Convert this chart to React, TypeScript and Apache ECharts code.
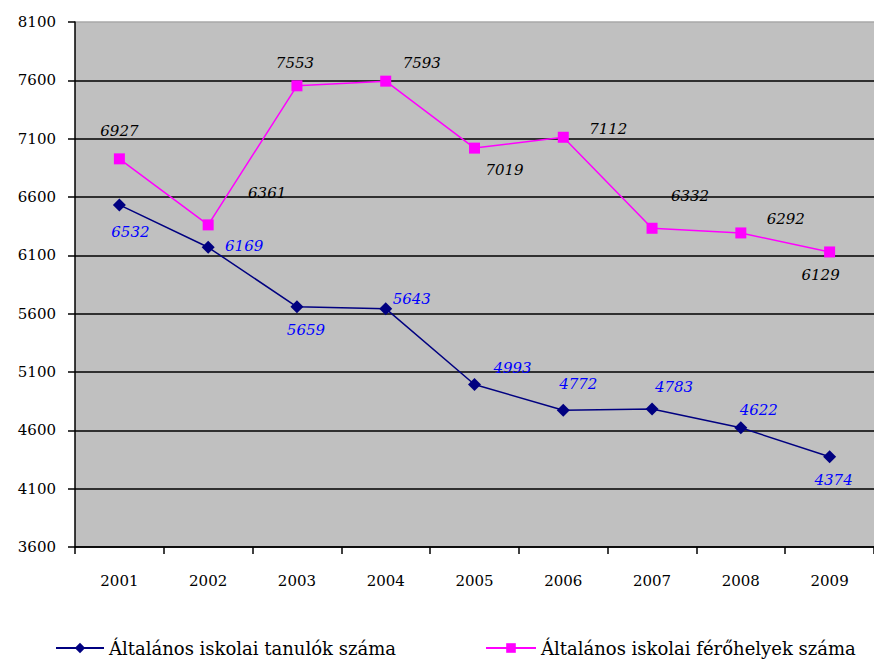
import React, { useEffect, useRef } from "react";
import * as echarts from "echarts";

const years = ["2001", "2002", "2003", "2004", "2005", "2006", "2007", "2008", "2009"];
const pupils = [6532, 6169, 5659, 5643, 4993, 4772, 4783, 4622, 4374];
const places = [6927, 6361, 7553, 7593, 7019, 7112, 6332, 6292, 6129];
const pupilsName = "Általános iskolai tanulók száma";
const placesName = "Általános iskolai férőhelyek száma";

const pupilsOffsets: [number, number][] = [
  [11, 27], [36, -1], [9, 23], [26, -10], [38, -16], [15, -26], [22, -22], [18, -18], [4, 23],
];
const placesOffsets: [number, number][] = [
  [0, -28], [59, -32], [-2, -23], [36, -18], [30, 22], [45, -8], [38, -32], [45, -14], [-9, 23],
];

const FONT = "'DejaVu Serif', 'Liberation Serif', serif";

export default function App() {
  const ref = useRef<HTMLDivElement>(null);
  useEffect(() => {
    if (!ref.current) return;
    const chart = echarts.init(ref.current, undefined, { renderer: "svg" });
    const splitColors = ["#000", "#000", "#000", "#000", "#000", "#000", "#000", "#000", "#000", "#a8a8a8"];
    chart.setOption({
      animation: false,
      backgroundColor: "#ffffff",
      grid: {
        left: 75,
        top: 22,
        width: 801,
        bottom: 112,
        show: true,
        backgroundColor: "#c0c0c0",
        borderWidth: 0,
      },
      legend: [
        {
          data: [pupilsName],
          left: 50,
          top: 634,
          itemWidth: 48,
          itemHeight: 13,
          itemGap: 8,
          textStyle: { fontFamily: FONT, fontSize: 18, color: "#000" },
        },
        {
          data: [placesName],
          left: 480,
          top: 634,
          itemWidth: 50,
          itemHeight: 12,
          textStyle: { fontFamily: FONT, fontSize: 18, color: "#000" },
        },
      ],
      xAxis: {
        type: "category",
        data: years,
        boundaryGap: true,
        axisLine: { lineStyle: { color: "#000", width: 1.5 } },
        axisTick: { show: true, length: 7, inside: false, lineStyle: { color: "#000", width: 1.5 } },
        axisLabel: { margin: 26, fontFamily: FONT, fontSize: 15, color: "#000" },
        splitLine: { show: false },
      },
      yAxis: {
        type: "value",
        min: 3600,
        max: 8100,
        interval: 500,
        axisLine: { show: true, lineStyle: { color: "#000", width: 1.5 } },
        axisTick: { show: true, length: 7, lineStyle: { color: "#000", width: 1.5 } },
        axisLabel: {
          margin: 19,
          fontFamily: FONT,
          fontSize: 15,
          color: "#000",
          formatter: (v: number) => String(v),
        },
        splitLine: { show: true, lineStyle: { color: splitColors, width: 1.5 } },
      },
      series: [
        {
          name: pupilsName,
          type: "line",
          data: pupils.map((v, i) => ({
            value: v,
            label: { offset: pupilsOffsets[i] },
          })),
          symbol: "diamond",
          symbolSize: 13,
          itemStyle: { color: "#000080" },
          lineStyle: { color: "#000080", width: 1.5 },
          label: {
            show: true,
            position: "inside",
            fontFamily: FONT,
            fontSize: 15,
            fontStyle: "italic",
            color: "#0000ff",
          },
        },
        {
          name: placesName,
          type: "line",
          data: places.map((v, i) => ({
            value: v,
            label: { offset: placesOffsets[i] },
          })),
          symbol: "rect",
          symbolSize: 11,
          itemStyle: { color: "#ff00ff" },
          lineStyle: { color: "#ff00ff", width: 1.5 },
          label: {
            show: true,
            position: "inside",
            fontFamily: FONT,
            fontSize: 15,
            fontStyle: "italic",
            color: "#000",
          },
        },
      ],
    });
    return () => chart.dispose();
  }, []);
  return (
    <div
      ref={ref}
      style={{ position: "absolute", left: 0, top: 0, width: 874, height: 659 }}
    />
  );
}
